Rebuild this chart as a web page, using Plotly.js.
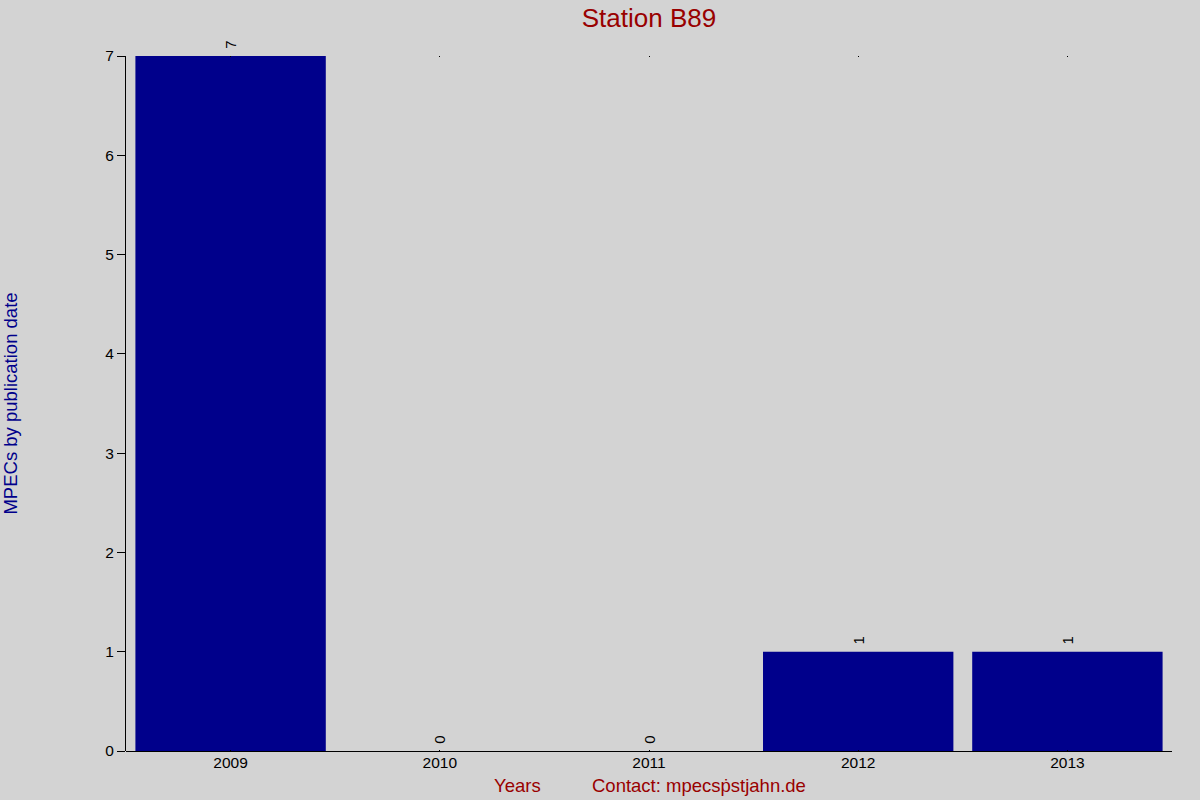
<!DOCTYPE html>
<html>
<head>
<meta charset="utf-8">
<script src="https://cdn.plot.ly/plotly-3.0.1.min.js"></script>
<style>
  body { margin: 0; background: #d3d3d3; }
  #chart { width: 1200px; height: 800px; }
</style>
</head>
<body>
<div id="chart"></div>
<script>
let years = ['2009', '2010', '2011', '2012', '2013'];
let mpecs = [7, 0, 0, 1, 1];
let yTicks = [0, 1, 2, 3, 4, 5, 6, 7];

let trace = {
  x: years,
  y: mpecs,
  type: 'bar',
  marker: { color: '#00008b' },
  text: mpecs.map(v => ' ' + v),
  textposition: 'outside',
  textangle: -90,
  constraintext: 'none',
  cliponaxis: false,
  textfont: { family: 'Liberation Sans, Arial', size: 15, color: 'black' },
  hoverinfo: 'none'
};

let layout = {
  width: 1200,
  height: 800,
  paper_bgcolor: '#d3d3d3',
  plot_bgcolor: '#d3d3d3',
  font: { family: 'Liberation Sans, Arial', size: 15, color: 'black' },
  margin: { l: 126, r: 28, t: 56, b: 49 },
  bargap: 0.09,
  showlegend: false,
  title: {
    text: 'Station B89',
    font: { size: 26, color: '#990000' },
    x: 0.5,
    xref: 'paper',
    y: 0.978,
    yanchor: 'middle'
  },
  xaxis: {
    type: 'category',
    range: [-0.5, 4.5],
    showgrid: false,
    showline: false,
    zeroline: false,
    ticks: 'inside',
    ticklen: 1,
    tickcolor: 'black',
    mirror: 'ticks',
    tickfont: { size: 15.5 }
  },
  yaxis: {
    range: [0, 7],
    tickvals: yTicks,
    showgrid: false,
    showline: true,
    linecolor: 'black',
    linewidth: 1,
    zeroline: true,
    zerolinecolor: 'black',
    zerolinewidth: 1,
    ticks: 'outside',
    ticklen: 8,
    tickcolor: 'black',
    tickfont: { size: 15.5 },
    title: {
      text: 'MPECs by publication date',
      font: { size: 18.5, color: '#00008b' },
      standoff: 84
    }
  },
  annotations: [
    {
      text: 'Years',
      xref: 'paper', yref: 'paper',
      x: (517 - 126) / 1046, y: -0.05,
      xanchor: 'center', yanchor: 'middle',
      showarrow: false,
      font: { size: 18.5, color: '#990000' }
    },
    {
      text: 'Contact: mpecsṗstjahn.de',
      xref: 'paper', yref: 'paper',
      x: (590 - 126) / 1046, y: -0.05,
      xanchor: 'left', yanchor: 'middle',
      showarrow: false,
      font: { size: 18.5, color: '#990000' }
    }
  ]
};

Plotly.newPlot('chart', [trace], layout, { staticPlot: true });
</script>
</body>
</html>
